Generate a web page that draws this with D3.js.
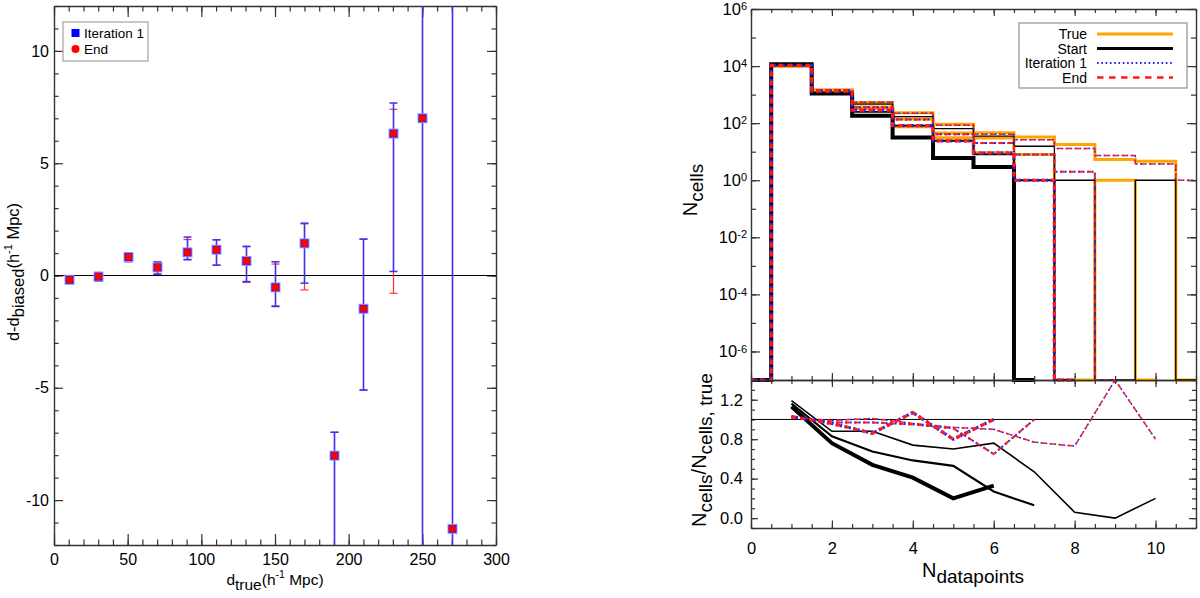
<!DOCTYPE html>
<html>
<head>
<meta charset="utf-8">
<script src="https://cdn.jsdelivr.net/npm/d3@7"></script>
<style>
  body { margin: 0; background: #fff; }
  svg { font-family: "Liberation Sans", Arial, Helvetica, sans-serif; }
</style>
</head>
<body>
<script>
// ---- left panel: residuals vs distance ----
const dTrue  = [10, 30, 50, 70, 90, 110, 130, 150, 170, 190, 210, 230, 250, 270];
const iterY  = [-0.19, -0.05, 0.82, 0.36, 1.03, 1.15, 0.65, -0.53, 1.43, -8.02, -1.48, 6.32, 7.0, -11.28];
const iterLo = [-0.33, -0.24, 0.62, 0.06, 0.70, 0.46, -0.27, -1.38, -0.34, -40, -5.10, 0.18, -40, -40];
const iterHi = [-0.08, 0.13, 1.00, 0.60, 1.71, 1.59, 1.30, 0.61, 2.33, -6.98, 1.62, 7.68, 40, 40];
const endY   = [-0.19, -0.05, 0.82, 0.36, 1.03, 1.15, 0.65, -0.53, 1.43, -8.02, -1.48, 6.32, 7.0, -11.28];
const endLo  = [-0.33, -0.24, 0.62, 0.06, 0.72, 0.46, -0.31, -1.35, -0.64, -40, -5.10, -0.79, -40, -40];
const endHi  = [-0.08, 0.13, 1.00, 0.60, 1.60, 1.59, 1.28, 0.51, 2.30, -6.98, 1.62, 7.40, 40, 40];

const leftXTicks = [0, 50, 100, 150, 200, 250, 300];
const leftYTicks = [-10, -5, 0, 5, 10];

// ---- right panel: histograms of cells per number of datapoints ----
// three samples (thick / medium / thin lines), bins start at 0
const binsA = [0, 1, 2, 3, 4, 5, 6, 7, 8];
const trueA  = [0, 10300, 1450, 333, 77, 30, 9.0, 0];
const startA = [0, 11700, 1100, 180, 31.5, 6.0, 2.9, 0];
const iterA  = [0, 10600, 1390, 287, 82, 24, 9.0, 1, 0];
const endA   = [0, 10600, 1390, 287, 82, 24, 9.0, 1, 0];

const binsB = [0, 1, 2, 3, 4, 5, 6, 7, 8, 9, 10];
const trueB  = [0, 10000, 1350, 370, 140, 45, 30, 8, 0, 1, 0];
const startB = [0, 11600, 1120, 250, 82, 24, 8, 1, 0];
const iterB  = [0, 10200, 1310, 360, 133, 41, 20, 8, 2, 0];
const endB   = [0, 10200, 1310, 360, 133, 41, 20, 8, 2, 0];

const binsC = [0, 1, 2, 3, 4, 5, 6, 7, 8, 9, 10, 11];
const trueC  = [0, 9800, 1250, 530, 230, 92, 46, 33, 18, 5.3, 4.6, 0];
const startC = [0, 11700, 1100, 466, 170, 64, 35, 15.5, 1, 0, 1, 0];
const iterC  = [0, 10000, 1240, 535, 221, 85, 41, 26, 13, 7.4, 3.7, 1];
const endC   = [0, 10000, 1240, 535, 221, 85, 41, 26, 13, 7.4, 3.7, 1];

// ratios N_cells / N_cells,true (x = 1..n)
const ratioX = [1, 2, 3, 4, 5, 6, 7, 8, 9, 10];
const rStartA = [1.13, 0.76, 0.54, 0.41, 0.20, 0.33];
const rStartB = [1.16, 0.83, 0.675, 0.585, 0.53, 0.27, 0.13];
const rStartC = [1.19, 0.88, 0.88, 0.74, 0.70, 0.76, 0.47, 0.06, 0.0, 0.20];
const rIterA  = [1.03, 0.96, 0.86, 1.07, 0.80, 1.00];
const rIterB  = [1.02, 0.97, 0.97, 0.95, 0.91, 0.65, 1.00];
const rIterC  = [1.02, 0.99, 1.01, 0.96, 0.92, 0.90, 0.77, 0.73, 1.40, 0.80];
const rEndA   = [1.03, 0.96, 0.86, 1.07, 0.80, 1.00];
const rEndB   = [1.02, 0.97, 0.97, 0.95, 0.91, 0.65, 1.00];
const rEndC   = [1.02, 0.99, 1.01, 0.96, 0.92, 0.90, 0.77, 0.73, 1.40, 0.80];

const rightXTicks = [0, 2, 4, 6, 8, 10];
const logTicks = [1e-6, 1e-4, 1e-2, 1, 1e2, 1e4, 1e6];
const ratioTicks = [0.0, 0.4, 0.8, 1.2];

const legendRight = ["True", "Start", "Iteration 1", "End"];
const legendLeft = ["Iteration 1", "End"];

const ORANGE = "#FFA500", AX = "#333", BLUE = "#1f1fff", RED = "#ff1a1a";
const DOT = "2,2.5", DASH = "4.5,4.5";

const svg = d3.select("body").append("svg")
    .attr("width", 1200)
    .attr("height", 598);

// scales
const xL = d3.scaleLinear().domain([0, 300]).range([54, 496]);
const yL = d3.scaleLinear().domain([-12, 12]).range([545, 6]);
const xR = d3.scaleLinear().domain([0, 11]).range([751, 1196]);
const yT = d3.scaleLog().domain([1e-7, 1e6]).range([380, 9]);
const yB = d3.scaleLinear().domain([-0.1, 1.4]).range([528, 380]);

// axis helper: ticks point into the plot, like the original
function addAxis(make, scale, tr, majors, minors, majLen, minLen, fmt, pad, size) {
    svg.append("g").attr("transform", tr)
        .call(make(scale).tickValues(minors).tickSize(-minLen).tickSizeOuter(0).tickFormat(""))
        .call(g => g.select(".domain").remove())
        .call(g => g.selectAll("line").attr("stroke", AX).attr("stroke-width", 1.2));
    const g = svg.append("g").attr("transform", tr)
        .call(make(scale).tickValues(majors).tickSize(-majLen).tickSizeOuter(0)
            .tickPadding(pad || 6).tickFormat(fmt || ""))
        .attr("font-family", null)
        .attr("font-size", size || 16);
    g.select(".domain").attr("stroke", AX).attr("stroke-width", 1.4);
    g.selectAll("line").attr("stroke", AX).attr("stroke-width", 1.2);
    g.selectAll("text").attr("fill", "#000");
    return g;
}

function rich(sel, parts, size, subSize, supSize) {
    let off = 0;
    parts.forEach(([t, k]) => {
        const target = k === "sub" ? 0.32 * size : k === "sup" ? -0.42 * size : 0;
        sel.append("tspan")
            .attr("dy", target - off)
            .attr("font-size", k === "sub" ? subSize : k === "sup" ? supSize : size)
            .text(t);
        off = target;
    });
}

// ================= left panel =================
const num = d => String(d);
addAxis(d3.axisBottom, xL, "translate(0,545)", leftXTicks, d3.range(0, 301, 10), 11, 5.5, num, 9, 16);
addAxis(d3.axisTop, xL, "translate(0,6)", leftXTicks, d3.range(0, 301, 10), 11, 5.5);
addAxis(d3.axisLeft, yL, "translate(54,0)", leftYTicks, d3.range(-12, 13, 1), 9, 4.5, num, 5, 16);
addAxis(d3.axisRight, yL, "translate(496,0)", leftYTicks, d3.range(-12, 13, 1), 9, 4.5);

svg.append("clipPath").attr("id", "clipL")
    .append("rect").attr("x", 54).attr("y", 6).attr("width", 442).attr("height", 539);

const gL = svg.append("g").attr("clip-path", "url(#clipL)");

gL.append("line")
    .attr("x1", xL(0)).attr("x2", xL(300))
    .attr("y1", yL(0)).attr("y2", yL(0))
    .attr("stroke", "#000").attr("stroke-width", 1);

function errBars(lo, hi, color, w) {
    const g = gL.append("g").attr("stroke", color).attr("stroke-width", w);
    dTrue.forEach((d, i) => {
        const x = Math.round(xL(d)) + 0.5;
        g.append("line").attr("x1", x).attr("x2", x).attr("y1", yL(lo[i])).attr("y2", yL(hi[i]));
        [lo[i], hi[i]].forEach(v => {
            g.append("line").attr("x1", x - 4).attr("x2", x + 4).attr("y1", yL(v)).attr("y2", yL(v));
        });
    });
}
errBars(endLo, endHi, "#ff3030", 1.2);
errBars(iterLo, iterHi, "#3333ff", 1.5);

gL.selectAll("rect.sq").data(dTrue).join("rect")
    .attr("class", "sq")
    .attr("x", d => Math.round(xL(d)) + 0.5 - 4.5)
    .attr("y", (d, i) => yL(iterY[i]) - 4.5)
    .attr("width", 9).attr("height", 9)
    .attr("fill", "#1a1aff")
    .attr("stroke", "#9a9aff").attr("stroke-width", 1);

gL.selectAll("circle.dot").data(dTrue).join("circle")
    .attr("class", "dot")
    .attr("cx", d => Math.round(xL(d)) + 0.5)
    .attr("cy", (d, i) => yL(endY[i]))
    .attr("r", 3.8)
    .attr("fill", "#ff0000");

// left legend
svg.append("rect").attr("x", 63).attr("y", 22).attr("width", 85).attr("height", 39)
    .attr("fill", "#fff").attr("stroke", "#aaa").attr("stroke-width", 1.3);
svg.append("rect").attr("x", 71.5).attr("y", 29).attr("width", 8).attr("height", 8).attr("fill", "#0000ff");
svg.append("circle").attr("cx", 75.5).attr("cy", 49).attr("r", 4).attr("fill", "#ff0000");
legendLeft.forEach((t, i) => {
    svg.append("text").attr("x", 84).attr("y", 38 + i * 15.5).attr("font-size", 13.5).text(t);
});

// left axis titles
rich(svg.append("text").attr("text-anchor", "middle")
        .attr("transform", "translate(19,272) rotate(-90)"),
    [["d-d", "n"], ["biased", "sub"], ["(h", "n"], ["-1", "sup"], [" Mpc)", "n"]], 16.5, 16.5, 11);
rich(svg.append("text").attr("text-anchor", "middle").attr("x", 275).attr("y", 585),
    [["d", "n"], ["true", "sub"], ["(h", "n"], ["-1", "sup"], [" Mpc)", "n"]], 15.5, 15.5, 10.5);

// ================= right top panel =================
const logMinor = d3.range(-7, 7).map(e => Math.pow(10, e));
const halfSteps = d3.range(0, 11.01, 0.5);
const gTopAx = addAxis(d3.axisLeft, yT, "translate(751,0)", logTicks, logMinor, 9, 5, d => d, 4, 16.5);
gTopAx.selectAll(".tick text").text(null).each(function (d) {
    const t = d3.select(this);
    t.append("tspan").text("10");
    t.append("tspan").attr("dy", "-0.42em").attr("font-size", 11).text(String(Math.round(Math.log10(d))));
});
addAxis(d3.axisRight, yT, "translate(1196,0)", logTicks, logMinor, 9, 5);
addAxis(d3.axisTop, xR, "translate(0,9)", rightXTicks, halfSteps, 7, 4);
addAxis(d3.axisBottom, xR, "translate(0,380)", rightXTicks, halfSteps, 7, 4);

const gTop = svg.append("g");
const histLine = bins => d3.line()
    .x((d, i) => xR(bins[i]))
    .y(d => yT(Math.max(d, 1e-7)))
    .curve(d3.curveStep);

function drawPath(g, data, gen, color, w, dash) {
    g.append("path").datum(data).attr("d", gen)
        .attr("fill", "none").attr("stroke", color).attr("stroke-width", w)
        .attr("stroke-dasharray", dash || null);
}

const sets = [
    { bins: binsA, tru: trueA, start: startA, iter: iterA, end: endA, rs: rStartA, ri: rIterA, re: rEndA, wT: 3.5, wS: 4, wR: 4, wD: 3.2 },
    { bins: binsB, tru: trueB, start: startB, iter: iterB, end: endB, rs: rStartB, ri: rIterB, re: rEndB, wT: 3, wS: 1.8, wR: 2.1, wD: 2.0 },
    { bins: binsC, tru: trueC, start: startC, iter: iterC, end: endC, rs: rStartC, ri: rIterC, re: rEndC, wT: 3, wS: 1.3, wR: 1.6, wD: 1.5 }
];

sets.forEach(s => drawPath(gTop, s.tru, histLine(s.bins), ORANGE, s.wT));
sets.forEach(s => drawPath(gTop, s.start, histLine(s.bins), "#000", s.wS));
sets.forEach(s => drawPath(gTop, s.iter, histLine(s.bins), BLUE, s.wD, DOT));
sets.forEach(s => drawPath(gTop, s.end, histLine(s.bins), RED, s.wD, DASH));

// right legend
svg.append("rect").attr("x", 1019).attr("y", 23).attr("width", 168).attr("height", 65)
    .attr("fill", "#fff").attr("stroke", "#999").attr("stroke-width", 1.3);
const legStyles = [
    { c: ORANGE, w: 3, dash: null },
    { c: "#000", w: 3, dash: null },
    { c: BLUE, w: 2, dash: "1.6,2.7" },
    { c: RED, w: 2.5, dash: "6.5,5.5" }
];
legendRight.forEach((t, i) => {
    const y = 34 + i * 14.5;
    svg.append("text").attr("x", 1087).attr("y", y + 5).attr("text-anchor", "end")
        .attr("font-size", 14).text(t);
    svg.append("line").attr("x1", 1097).attr("x2", 1173).attr("y1", y).attr("y2", y)
        .attr("stroke", legStyles[i].c).attr("stroke-width", legStyles[i].w)
        .attr("stroke-dasharray", legStyles[i].dash);
});

// ================= right bottom panel =================
const ratioMinor = d3.range(-0.1, 1.401, 0.1);
addAxis(d3.axisLeft, yB, "translate(751,0)", ratioTicks, ratioMinor, 7, 4, d3.format(".1f"), 8, 16.5);
addAxis(d3.axisRight, yB, "translate(1196,0)", ratioTicks, ratioMinor, 7, 4);
addAxis(d3.axisTop, xR, "translate(0,380)", rightXTicks, halfSteps, 7, 4);
addAxis(d3.axisBottom, xR, "translate(0,528)", rightXTicks, halfSteps, 7.5, 4, num, 14, 16.5);

svg.append("clipPath").attr("id", "clipB")
    .append("rect").attr("x", 751).attr("y", 380).attr("width", 445).attr("height", 148);
const gB = svg.append("g").attr("clip-path", "url(#clipB)");

gB.append("line")
    .attr("x1", xR(0)).attr("x2", xR(11))
    .attr("y1", yB(1)).attr("y2", yB(1))
    .attr("stroke", "#000").attr("stroke-width", 1);

const ratioLine = d3.line().x((d, i) => xR(ratioX[i])).y(d => yB(d));
sets.forEach(s => drawPath(gB, s.rs, ratioLine, "#000", s.wR));
sets.forEach(s => drawPath(gB, s.ri, ratioLine, BLUE, s.wD, DOT));
sets.forEach(s => drawPath(gB, s.re, ratioLine, RED, s.wD, DASH));

// right axis titles
rich(svg.append("text").attr("text-anchor", "middle")
        .attr("transform", "translate(697,190) rotate(-90)"),
    [["N", "n"], ["cells", "sub"]], 20, 19, 13);
rich(svg.append("text").attr("text-anchor", "middle")
        .attr("transform", "translate(706,450) rotate(-90)"),
    [["N", "n"], ["cells", "sub"], ["/N", "n"], ["cells, true", "sub"]], 20, 19, 13);
rich(svg.append("text").attr("text-anchor", "middle").attr("x", 973).attr("y", 577),
    [["N", "n"], ["datapoints", "sub"]], 20, 19, 13);
</script>
</body>
</html>
